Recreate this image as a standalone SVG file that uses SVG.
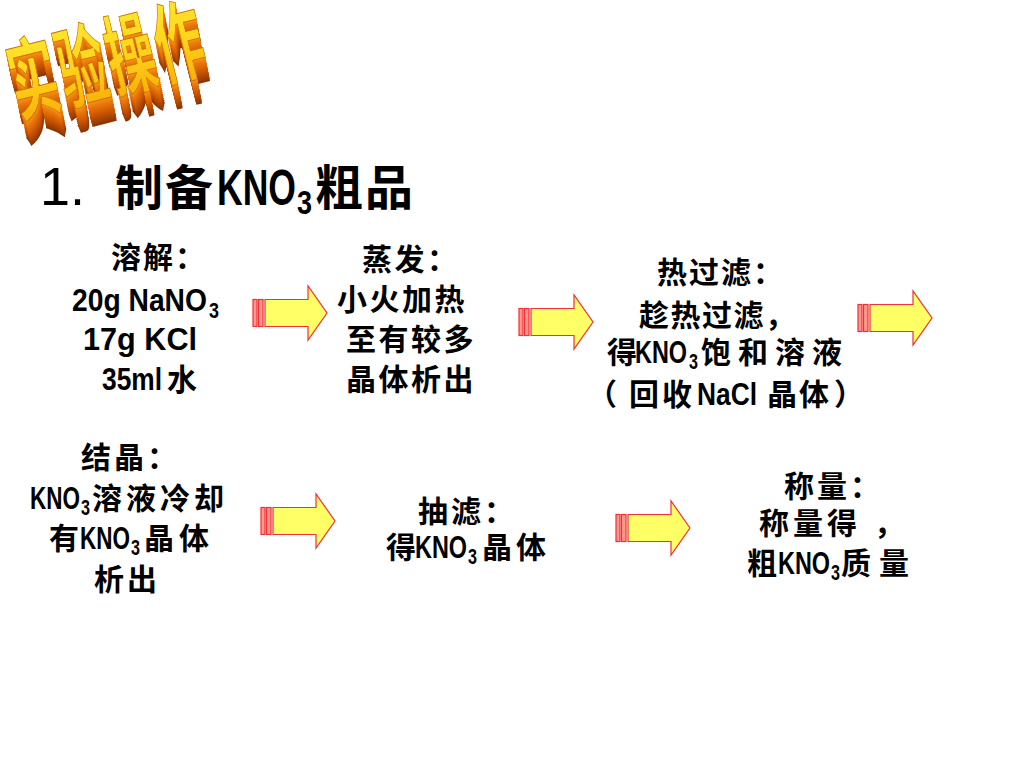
<svg xmlns="http://www.w3.org/2000/svg" xmlns:xlink="http://www.w3.org/1999/xlink" width="1024" height="768" viewBox="0 0 1024 768">
<style>
.c{font-family:"Noto Sans CJK SC","Noto Sans CJK JP",sans-serif;font-size:30px;font-weight:bold;fill:#000}
.l{font-family:"Liberation Sans",Arial,sans-serif;font-size:31px;font-weight:bold;fill:#000}
.s{font-family:"Liberation Sans",Arial,sans-serif;font-size:22px;font-weight:bold;fill:#000}
.tc{font-family:"Noto Sans CJK SC","Noto Sans CJK JP",sans-serif;font-size:48px;font-weight:bold;fill:#000;letter-spacing:2px}
.stripe{fill:#FF9A8A;stroke:#F0303A;stroke-width:1.2}
.abody{fill:#FFFF66;stroke:#F0303A;stroke-width:1.2;stroke-linejoin:miter}
.wa{font-family:"Noto Sans CJK SC","Noto Sans CJK JP",sans-serif;font-size:48px;font-weight:bold;letter-spacing:2px}
</style>
<defs>
<linearGradient id="gold" x1="0" y1="0" x2="0" y2="1">
<stop offset="0" stop-color="#FFF23A"/>
<stop offset="0.55" stop-color="#FFD21A"/>
<stop offset="1" stop-color="#F5A100"/>
</linearGradient>
<g id="arrow">
<rect class="stripe" x="0" y="-13.5" width="4" height="27"/>
<rect class="stripe" x="5.5" y="-13.5" width="4.5" height="27"/>
<path class="abody" d="M12,-13.5 H55 V-27 L74,0 L55,27 V13.5 H12 Z"/>
</g>
<text id="watext" class="wa" x="0" y="0" transform="translate(18,116) rotate(-14) scale(1,1.85)">实验操作</text>
</defs>

<g id="title-art">
<use xlink:href="#watext" href="#watext" transform="translate(4.8,24)" fill="#8E3400"/>
<use xlink:href="#watext" href="#watext" transform="translate(4.4,22)" fill="#9C3C00"/>
<use xlink:href="#watext" href="#watext" transform="translate(4,20)" fill="#A84200"/>
<use xlink:href="#watext" href="#watext" transform="translate(3.6,18)" fill="#B44800"/>
<use xlink:href="#watext" href="#watext" transform="translate(3.2,16)" fill="#C05000"/>
<use xlink:href="#watext" href="#watext" transform="translate(2.8,14)" fill="#CA5600"/>
<use xlink:href="#watext" href="#watext" transform="translate(2.4,12)" fill="#D45E02"/>
<use xlink:href="#watext" href="#watext" transform="translate(2,10)" fill="#DC6604"/>
<use xlink:href="#watext" href="#watext" transform="translate(1.6,8)" fill="#E26E08"/>
<use xlink:href="#watext" href="#watext" transform="translate(1.2,6)" fill="#E8760C"/>
<use xlink:href="#watext" href="#watext" transform="translate(0.8,4)" fill="#EE8010"/>
<use xlink:href="#watext" href="#watext" transform="translate(0.5,2.2)" fill="#F48A14"/>
<use xlink:href="#watext" href="#watext" transform="translate(0.2,1)" fill="#F89418"/>
<use xlink:href="#watext" href="#watext" fill="url(#gold)" stroke="#C87000" stroke-width="0.5"/>
</g>

<g id="heading">
<text x="40" y="205" style="font-family:'Liberation Sans',Arial,sans-serif;font-size:54px;fill:#000">1.</text>
<text class="tc" x="115" y="205">制备</text>
<text x="217" y="205" style="font-family:'Liberation Sans',Arial,sans-serif;font-size:50px;font-weight:bold;fill:#000" textLength="79" lengthAdjust="spacingAndGlyphs">KNO</text>
<text x="297" y="214" style="font-family:'Liberation Sans',Arial,sans-serif;font-size:34px;font-weight:bold;fill:#000" textLength="15" lengthAdjust="spacingAndGlyphs">3</text>
<text class="tc" x="315" y="205">粗品</text>
</g>

<g id="node-dissolve">
<text class="c" x="111" y="268" letter-spacing="2">溶解：</text>
<text class="l" x="72" y="311" textLength="135" lengthAdjust="spacingAndGlyphs">20g NaNO</text>
<text class="s" x="209" y="318" textLength="10" lengthAdjust="spacingAndGlyphs">3</text>
<text class="l" x="83" y="350" textLength="114" lengthAdjust="spacingAndGlyphs">17g KCl</text>
<text class="l" x="102" y="390" textLength="60" lengthAdjust="spacingAndGlyphs">35ml</text>
<text class="c" x="167" y="390">水</text>
</g>

<g id="node-evaporate">
<text class="c" x="362" y="270" letter-spacing="2.5">蒸发：</text>
<text class="c" x="337" y="310" letter-spacing="2.5">小火加热</text>
<text class="c" x="346" y="350" letter-spacing="2.5">至有较多</text>
<text class="c" x="346" y="390" letter-spacing="2.5">晶体析出</text>
</g>

<g id="node-hot-filter">
<text class="c" x="657" y="283" letter-spacing="2">热过滤：</text>
<text class="c" x="639" y="326" letter-spacing="1.5">趁热过滤，</text>
<text class="c" x="607" y="363">得</text>
<text class="l" x="635" y="363" textLength="52" lengthAdjust="spacingAndGlyphs">KNO</text>
<text class="s" x="689" y="369" textLength="9" lengthAdjust="spacingAndGlyphs">3</text>
<text class="c" x="701" y="363" letter-spacing="7">饱和溶液</text>
<text class="c" x="587" y="405">（</text>
<text class="c" x="629" y="405" letter-spacing="3">回收</text>
<text class="l" x="697" y="405" textLength="60" lengthAdjust="spacingAndGlyphs">NaCl</text>
<text class="c" x="767" y="405" letter-spacing="2">晶体</text>
<text class="c" x="834" y="405">）</text>
</g>

<g id="node-crystallize">
<text class="c" x="81" y="468" letter-spacing="3">结晶：</text>
<text class="l" x="30" y="509" textLength="50" lengthAdjust="spacingAndGlyphs">KNO</text>
<text class="s" x="81" y="515" textLength="9" lengthAdjust="spacingAndGlyphs">3</text>
<text class="c" x="92" y="509" letter-spacing="4">溶液冷却</text>
<text class="c" x="49" y="549">有</text>
<text class="l" x="80" y="549" textLength="50" lengthAdjust="spacingAndGlyphs">KNO</text>
<text class="s" x="131" y="555" textLength="9" lengthAdjust="spacingAndGlyphs">3</text>
<text class="c" x="144" y="549" letter-spacing="5">晶体</text>
<text class="c" x="94" y="590" letter-spacing="3">析出</text>
</g>

<g id="node-suction-filter">
<text class="c" x="418" y="522" letter-spacing="3">抽滤：</text>
<text class="c" x="386" y="558">得</text>
<text class="l" x="415" y="558" textLength="52" lengthAdjust="spacingAndGlyphs">KNO</text>
<text class="s" x="468" y="564" textLength="9" lengthAdjust="spacingAndGlyphs">3</text>
<text class="c" x="482" y="558" letter-spacing="4">晶体</text>
</g>

<g id="node-weigh">
<text class="c" x="784" y="497" letter-spacing="3">称量：</text>
<text class="c" x="759" y="534" letter-spacing="4">称量得</text>
<text class="c" x="874" y="534">，</text>
<text class="c" x="747" y="574">粗</text>
<text class="l" x="778" y="574" textLength="52" lengthAdjust="spacingAndGlyphs">KNO</text>
<text class="s" x="831" y="580" textLength="9" lengthAdjust="spacingAndGlyphs">3</text>
<text class="c" x="841" y="574" letter-spacing="8">质量</text>
</g>

<g id="connectors">
<use xlink:href="#arrow" href="#arrow" transform="translate(253,313)"/>
<use xlink:href="#arrow" href="#arrow" transform="translate(519,322)"/>
<use xlink:href="#arrow" href="#arrow" transform="translate(858,318)"/>
<use xlink:href="#arrow" href="#arrow" transform="translate(261,521)"/>
<use xlink:href="#arrow" href="#arrow" transform="translate(616,528)"/>
</g>
</svg>
